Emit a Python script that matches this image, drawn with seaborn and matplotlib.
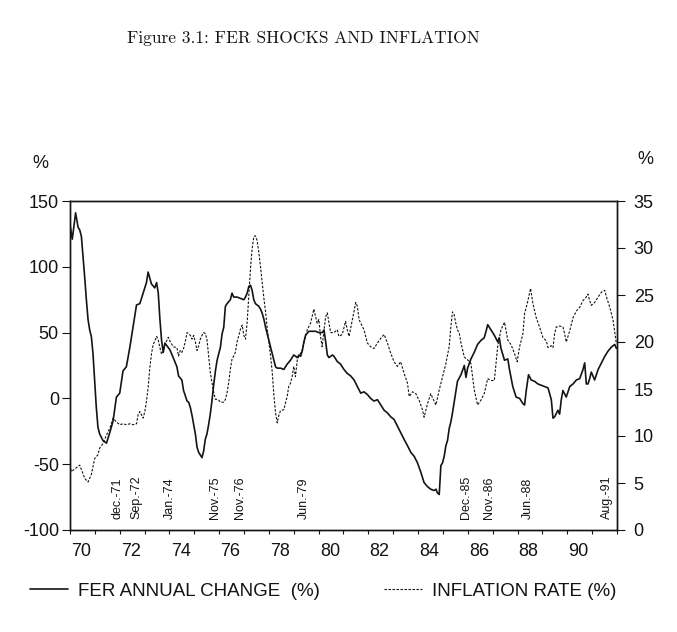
import numpy as np
import pandas as pd
import matplotlib
matplotlib.use("Agg")
import matplotlib.pyplot as plt
import seaborn as sns

# ---- data (months counted from Jan 1970) ----
fer_month = [0, 1.1, 2.7, 3.9, 4.7, 5.5, 6.3, 7.1, 7.9, 8.7, 9.5, 10.3, 11.1, 11.9, 12.7,
             13.5, 14.3, 15.9, 17.6, 19.2, 20.8, 22.4, 24.0, 25.6, 27.2, 28.9, 30.5, 32.1,
             33.7, 35.3, 36.9, 37.7, 39.3, 40.9, 41.8, 42.6, 43.4, 44.2, 45.0, 45.8, 48.2,
             49.8, 51.6, 52.4, 54.0, 54.8, 56.5, 57.3, 58.1, 58.9, 59.7, 60.5, 61.3, 62.1,
             62.9, 63.7, 64.5, 65.3, 66.1, 66.9, 67.7, 68.5, 69.4, 70.2, 71.0, 71.8, 72.6,
             73.4, 74.2, 75.0, 75.8, 77.4, 78.2, 79.0, 80.6, 82.3, 83.9, 84.7, 85.5, 86.3,
             87.1, 87.9, 88.7, 89.5, 91.1, 91.9, 92.7, 93.6, 94.4, 95.2, 96.0, 96.8, 97.6,
             98.4, 99.2, 100.0, 101.6, 103.2, 104.8, 106.4, 108.0, 109.7, 110.5, 111.3,
             112.1, 112.9, 113.7, 115.3, 116.9, 118.5, 120.1, 121.7, 122.6, 123.4, 124.2,
             125.0, 126.6, 127.4, 129.0, 130.6, 132.2, 133.8, 135.5, 137.1, 138.7, 140.3,
             141.9, 143.5, 145.1, 146.7, 148.4, 150.0, 151.6, 153.2, 154.8, 156.4, 158.0,
             159.6, 161.2, 162.9, 164.5, 166.1, 167.7, 169.3, 170.9, 172.5, 174.1, 175.8,
             176.6, 177.4, 178.2, 179.0, 179.8, 180.6, 181.4, 182.2, 183.0, 183.8, 184.6,
             185.4, 186.2, 187.0, 188.7, 190.3, 191.1, 191.9, 193.5, 195.1, 196.7, 198.3,
             199.9, 200.8, 201.6, 203.2, 204.8, 206.4, 207.2, 208.0, 209.7, 211.3, 212.1,
             213.7, 215.3, 217.0, 218.6, 219.4, 220.2, 221.3, 222.6, 224.2, 225.8, 227.4,
             229.1, 230.7, 232.3, 233.1, 233.9, 235.5, 236.3, 237.1, 237.9, 239.5, 241.2,
             242.8, 244.4, 246.0, 247.6, 248.4, 249.2, 250.0, 250.8, 251.6, 253.2, 254.9,
             256.5, 258.1, 259.7, 261.3, 262.9, 263.7]
fer_value = [132, 121, 141, 130, 128, 123, 108, 92, 75, 60, 52, 47, 34, 14, -7,
             -22, -27, -32, -34, -26, -17, 1, 4, 21, 24, 39, 55, 71,
             72, 80, 88, 96, 87, 84, 88, 80, 60, 44, 35, 42, 37,
             31, 24, 17, 14, 6, -2, -3, -7, -13, -20, -27, -37, -41,
             -43, -45, -40, -31, -27, -20, -12, -2, 11, 21, 29, 34, 39,
             49, 54, 70, 72, 75, 80, 77, 77, 76, 75, 77, 80, 85,
             86, 82, 75, 72, 70, 68, 65, 60, 54, 49, 44, 39, 34,
             29, 24, 23, 23, 22, 26, 29, 33, 31, 33, 32,
             36, 43, 48, 51, 51, 51, 50, 50, 52, 43, 33,
             31, 33, 32, 28, 26, 22, 19, 17, 14, 9, 4,
             5, 3, 0, -2, -1, -5, -9, -11, -14, -16, -21,
             -26, -31, -36, -41, -44, -49, -56, -64, -67, -69, -70,
             -69, -72, -73, -51, -49, -44, -36, -32, -23, -18, -11,
             -3, 5, 13, 18, 25, 16, 23, 30, 35, 41, 44,
             46, 51, 56, 52, 48, 43, 46, 38, 29, 30, 22,
             9, 1, 0, -4, -5, 6, 18, 14, 13, 11, 10,
             9, 8, -1, -15, -14, -9, -12, -1, 6, 1, 9,
             11, 14, 15, 22, 27, 11, 11, 15, 20, 14, 22,
             27, 32, 36, 39, 41, 38]

inf_month = [0, 0.6, 4.7, 7.1, 8.7, 10.3, 11.9, 13.5, 14.3, 15.9, 17.6, 19.2, 20.8, 22.4,
             24.0, 25.6, 27.2, 28.9, 30.5, 32.1, 32.9, 33.7, 35.3, 36.1, 36.9, 37.7, 38.5,
             39.3, 40.1, 40.9, 41.8, 42.6, 43.4, 44.2, 45.0, 45.8, 46.6, 47.4, 48.2, 49.8,
             51.6, 52.4, 53.2, 54.0, 54.8, 55.6, 56.5, 57.3, 58.1, 58.9, 59.7, 60.5, 61.3,
             62.1, 62.9, 63.7, 64.5, 65.3, 66.1, 66.9, 67.7, 68.5, 69.4, 70.2, 71.0, 71.8,
             72.6, 73.4, 74.2, 75.0, 75.8, 76.6, 77.4, 78.2, 79.0, 79.8, 80.6, 81.5, 82.3,
             83.1, 83.9, 84.7, 85.5, 86.3, 87.1, 87.9, 88.7, 89.5, 90.3, 91.1, 91.9, 92.7,
             93.6, 94.4, 95.2, 96.0, 96.8, 97.6, 98.4, 99.2, 100.0, 100.8, 101.6, 103.2,
             104.8, 105.6, 106.4, 107.2, 108.0, 108.8, 109.7, 110.5, 111.3, 112.1, 112.9,
             114.5, 116.1, 117.7, 118.5, 119.3, 120.1, 120.9, 121.7, 122.6, 123.4, 124.2,
             125.0, 125.8, 127.4, 129.0, 129.8, 131.4, 133.0, 133.8, 134.7, 136.3, 137.9,
             138.7, 139.5, 140.3, 141.9, 143.5, 145.1, 146.7, 148.4, 150.0, 151.6, 153.2,
             154.8, 156.4, 158.0, 159.6, 161.2, 162.9, 163.7, 165.3, 166.9, 168.5, 170.1,
             170.9, 172.5, 174.1, 175.8, 176.6, 178.2, 179.8, 181.4, 183.0, 183.8, 184.6,
             185.4, 186.2, 187.0, 187.9, 188.7, 190.3, 191.9, 193.5, 195.1, 196.7, 198.3,
             199.9, 201.6, 203.2, 204.8, 205.6, 206.4, 208.0, 209.7, 211.3, 212.9, 214.5,
             215.8, 217.0, 218.6, 219.4, 221.0, 222.3, 223.4, 225.0, 226.6, 228.2, 229.9,
             230.7, 232.3, 233.1, 233.9, 234.7, 236.3, 237.9, 238.7, 239.5, 241.2, 242.8,
             244.4, 246.0, 247.6, 249.2, 250.0, 250.8, 251.6, 253.2, 254.9, 256.5, 258.1,
             258.9, 260.5, 262.1, 263.7]
inf_value = [6.9, 6.2, 6.9, 5.5, 5.1, 5.9, 7.6, 8.0, 8.7, 9.2, 10.1, 10.8, 11.9, 11.5,
             11.2, 11.3, 11.2, 11.3, 11.2, 11.3, 12.3, 12.6, 11.9, 12.6, 13.7, 15.1, 17.2,
             18.7, 19.7, 20.1, 20.6, 20.2, 19.4, 18.7, 19.0, 19.7, 20.1, 20.5, 20.1, 19.5,
             19.4, 18.5, 19.1, 18.9, 19.3, 20.0, 21.0, 20.9, 20.7, 20.3, 20.7, 20.0, 19.1,
             19.6, 20.3, 20.7, 21.0, 20.9, 20.3, 18.5, 16.8, 15.7, 14.6, 13.9, 13.9, 13.8,
             13.6, 13.6, 13.6, 13.9, 14.6, 15.7, 17.1, 18.2, 18.5, 18.9, 20.0, 20.7, 21.4,
             21.8, 20.7, 20.3, 22.1, 24.9, 27.8, 29.9, 31.2, 31.3, 30.8, 29.6, 28.1, 26.4,
             24.6, 23.2, 21.4, 20.0, 18.5, 16.8, 14.3, 12.5, 11.4, 12.2, 12.7, 12.8,
             14.2, 15.3, 15.6, 16.3, 17.4, 16.3, 18.1, 18.5, 18.8, 19.2, 19.9,
             21.3, 22.0, 23.5, 22.7, 22.0, 22.4, 20.6, 19.5, 21.3, 22.7, 23.1,
             22.0, 21.0, 21.0, 21.3, 20.6, 20.8, 22.2, 21.3, 20.6, 22.4, 24.2,
             23.8, 22.4, 22.0, 21.3, 19.9, 19.5, 19.3, 19.9, 20.4, 20.8, 19.9,
             18.8, 17.9, 17.4, 17.9, 16.7, 15.6, 14.2, 14.7, 14.5, 13.8, 12.8,
             12.0, 13.4, 14.5, 13.7, 13.3, 14.9, 16.3, 17.7, 19.5, 21.6, 23.2,
             22.9, 22.0, 21.3, 20.9, 19.9, 18.4, 18.1, 17.7, 14.9, 13.3, 13.8,
             14.5, 16.1, 15.9, 15.9, 17.7, 19.5, 21.3, 22.1, 20.2, 19.7, 18.8,
             17.9, 19.5, 20.9, 23.0, 24.4, 25.7, 24.1, 22.6, 21.6, 20.5, 20.1,
             19.4, 19.6, 19.4, 20.9, 21.6, 21.7, 21.6, 20.9, 20.0, 21.2, 22.6,
             23.3, 23.7, 24.4, 24.8, 25.1, 24.4, 23.9, 24.2, 24.8, 25.3, 25.5,
             24.8, 23.7, 22.3, 19.8]

event_labels = ["dec.-71", "Sep.-72", "Jan.-74", "Nov.-75", "Nov.-76", "Jun.-79",
                "Dec.-85", "Nov.-86", "Jun.-88", "Aug.-91"]
event_month = [23, 32, 48, 70, 82, 113, 191, 202, 221, 259]

year_label_years = [1970, 1972, 1974, 1976, 1978, 1980, 1982, 1984, 1986, 1988, 1990]
year_labels = ["70", "72", "74", "76", "78", "80", "82", "84", "86", "88", "90"]
left_ticks = [-100, -50, 0, 50, 100, 150]
right_ticks = [0, 5, 10, 15, 20, 25, 30, 35]

title = "Figure 3.1: FER SHOCKS AND INFLATION"
series_names = ["FER ANNUAL CHANGE  (%)", "INFLATION RATE (%)"]

# ---- style ----
sns.set_style("ticks")
plt.rcParams["font.family"] = ["Liberation Sans", "DejaVu Sans"]
plt.rcParams["axes.unicode_minus"] = False
ink = "#141414"

fig = plt.figure(figsize=(6.77, 6.32), dpi=100)
W, H = 677, 632
ax = fig.add_axes([70 / W, 1 - 530 / H, 547 / W, 329 / H])
ax2 = ax.twinx()

fer_df = pd.DataFrame({"year": 1970 + np.array(fer_month) / 12.0, "value": fer_value})
inf_df = pd.DataFrame({"year": 1970 + np.array(inf_month) / 12.0, "value": inf_value})

sns.lineplot(data=fer_df, x="year", y="value", ax=ax, color=ink, linewidth=1.2,
             estimator=None, sort=False)
sns.lineplot(data=inf_df, x="year", y="value", ax=ax2, color=ink, linewidth=0.8,
             linestyle=(0, (2.2, 1.4)), estimator=None, sort=False)

ax.set_xlim(1970, 1992)
ax.set_ylim(-100, 150)
ax2.set_ylim(0, 35)
ax.set_xlabel("")
ax.set_ylabel("")
ax2.set_ylabel("")

years = list(range(1970, 1993))
ax.set_xticks(years, labels=[""] * len(years))
ax.set_xticks([y + 0.45 for y in year_label_years], labels=year_labels, minor=True)
ax.tick_params(axis="x", which="major", direction="out", length=3, width=0.8, color=ink)
ax.tick_params(axis="x", which="minor", length=0, pad=9, labelsize=13, labelcolor=ink)

ax.set_yticks(left_ticks, labels=[str(v) for v in left_ticks])
ax.tick_params(axis="y", direction="out", length=6, width=0.8, pad=2, labelsize=13,
               color=ink, labelcolor=ink)
ax2.set_yticks(right_ticks, labels=[str(v) for v in right_ticks])
ax2.tick_params(axis="y", direction="out", length=6, width=0.8, pad=6, labelsize=13,
                color=ink, labelcolor=ink)

for a in (ax, ax2):
    for s in a.spines.values():
        s.set_visible(True)
        s.set_linewidth(1.0)
        s.set_color(ink)

for lab, m in zip(event_labels, event_month):
    ax.text(1970 + m / 12.0, -92, lab, rotation=90, ha="center", va="bottom",
            fontsize=9, color=ink)

fig.text(40 / W, 1 - 163 / H, "%", ha="center", va="center", fontsize=13, color=ink)
fig.text(645 / W, 1 - 160 / H, "%", ha="center", va="center", fontsize=13, color=ink)

fig.text(303 / W, 1 - 38 / H, title, ha="center", va="center", fontsize=12.5,
         family="cmr10", color=ink)

h1 = ax.lines[0]
h2 = ax2.lines[0]
fig.legend([h1, h2], series_names, loc="center left",
           bbox_to_anchor=(30 / W, 1 - 591 / H), ncol=2, frameon=False,
           borderpad=0, borderaxespad=0, handlelength=2.0, handletextpad=0.55,
           columnspacing=3.45, fontsize=13.5, labelcolor=ink)

fig.savefig("out.png", dpi=100, facecolor="white")
